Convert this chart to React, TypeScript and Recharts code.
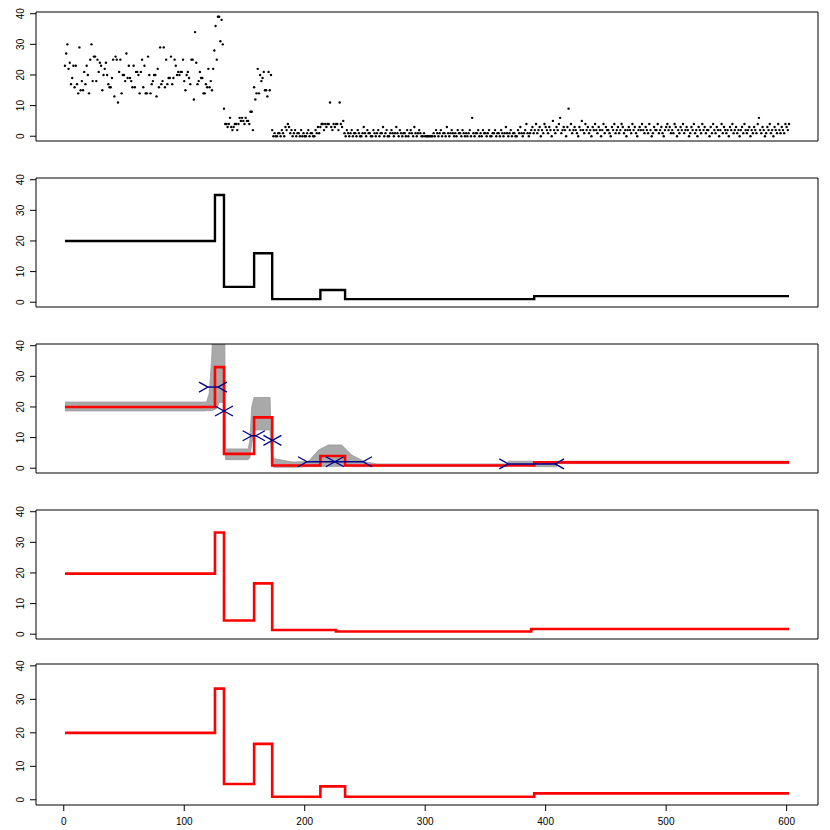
import {
  Area,
  ComposedChart,
  Line,
  ReferenceArea,
  ReferenceLine,
  Scatter,
  XAxis,
  YAxis,
} from "recharts";

// raw counts, one per position (1..602)
const counts = [
  23, 27, 30, 22, 24, 17, 19, 23, 16, 23, 17, 14, 29, 15, 18, 15, 21, 17, 23, 20,
  14, 25, 30, 18, 26, 26, 18, 25, 21, 24, 23, 15, 20, 22, 24, 20, 17, 16, 16, 19,
  25, 13, 26, 25, 11, 21, 25, 14, 20, 20, 18, 27, 19, 23, 19, 18, 16, 23, 16, 21,
  21, 20, 14, 21, 25, 16, 23, 14, 14, 26, 20, 14, 17, 18, 20, 20, 13, 22, 16, 29,
  17, 18, 29, 16, 25, 17, 19, 19, 26, 17, 19, 25, 23, 20, 21, 20, 21, 21, 25, 18,
  15, 20, 21, 19, 17, 25, 25, 12, 34, 24, 17, 18, 21, 19, 19, 14, 14, 17, 16, 22,
  16, 18, 15, 22, 28, 36, 25, 39, 39, 31, 38, 30, 9, 4, 4, 3, 4, 6, 3, 2,
  3, 4, 4, 2, 4, 6, 5, 6, 5, 4, 6, 5, 5, 4, 8, 8, 2, 16, 12, 14,
  22, 14, 20, 18, 19, 21, 15, 15, 13, 21, 15, 20, 2, 0, 1, 0, 0, 1, 1, 0,
  2, 1, 0, 3, 2, 4, 3, 1, 2, 0, 1, 2, 0, 1, 1, 0, 2, 0, 1, 0,
  0, 1, 2, 0, 1, 1, 0, 0, 2, 1, 3, 1, 3, 4, 4, 2, 4, 3, 4, 4,
  11, 3, 2, 4, 3, 4, 4, 2, 11, 4, 3, 5, 1, 0, 2, 1, 0, 1, 2, 0,
  1, 1, 0, 2, 1, 0, 0, 1, 3, 1, 0, 2, 1, 1, 0, 0, 2, 1, 0, 1,
  2, 0, 1, 1, 3, 0, 1, 2, 0, 0, 1, 2, 1, 0, 1, 3, 1, 0, 2, 1,
  0, 1, 1, 0, 2, 0, 1, 2, 1, 0, 3, 1, 0, 1, 2, 1, 0, 0, 1, 0,
  0, 0, 0, 0, 0, 0, 1, 0, 2, 1, 0, 1, 2, 0, 1, 1, 0, 3, 1, 0,
  1, 2, 1, 0, 1, 0, 2, 1, 1, 0, 2, 1, 0, 1, 0, 1, 2, 0, 6, 1,
  0, 1, 1, 2, 0, 1, 0, 2, 1, 1, 0, 1, 2, 0, 0, 1, 1, 2, 0, 1,
  1, 0, 2, 1, 0, 1, 3, 1, 0, 1, 2, 0, 1, 1, 0, 0, 2, 1, 3, 1,
  0, 1, 2, 4, 1, 0, 1, 2, 3, 1, 2, 4, 1, 2, 3, 0, 2, 1, 4, 3,
  2, 1, 3, 2, 0, 5, 2, 1, 3, 2, 4, 6, 1, 2, 3, 2, 0, 3, 9, 2,
  4, 1, 2, 3, 2, 1, 0, 3, 2, 5, 2, 1, 4, 2, 3, 1, 2, 0, 3, 2,
  4, 2, 1, 3, 2, 0, 2, 4, 1, 3, 2, 2, 1, 0, 3, 2, 4, 1, 2, 3,
  1, 2, 4, 3, 1, 2, 0, 2, 3, 2, 1, 4, 2, 3, 1, 0, 2, 3, 2, 4,
  2, 1, 3, 2, 1, 4, 2, 0, 1, 3, 2, 2, 4, 1, 2, 3, 1, 0, 2, 3,
  4, 2, 3, 1, 2, 1, 4, 3, 0, 2, 1, 3, 2, 4, 1, 2, 3, 2, 0, 1,
  3, 2, 4, 1, 2, 0, 3, 2, 1, 4, 2, 3, 1, 2, 2, 0, 3, 1, 4, 2,
  1, 3, 2, 0, 2, 4, 1, 3, 2, 1, 2, 0, 3, 2, 4, 1, 2, 3, 1, 2,
  0, 2, 3, 1, 4, 2, 1, 2, 3, 0, 2, 1, 3, 2, 1, 4, 6, 2, 1, 3,
  2, 0, 1, 3, 2, 4, 1, 2, 0, 3, 2, 1, 4, 2, 1, 3, 2, 1, 4, 3, 2, 4,
];

// segment boundaries and levels of the step fits
const breaks = [1, 125.5, 133, 158, 173, 213, 233.5, 390.5, 602];
const breaks4 = [1, 125.5, 133, 158, 173, 226, 388, 602];
const truthLevels = [20, 35, 5, 16, 1, 4, 1, 2];
const fit3Levels = [20, 33, 4.7, 16.6, 0.9, 4, 0.9, 1.9];
const fit4Levels = [19.8, 33.2, 4.5, 16.6, 1.4, 0.9, 1.7];
const fit5Levels = [20, 33.2, 4.7, 16.7, 0.9, 4, 0.9, 1.9];

// grey band in panel 3
const bandX = [1, 117, 118.6, 120.7, 122.7, 124.1, 127, 129, 131.9, 133.6, 134.2, 153.1, 154.5, 156, 157.9, 171.2, 172.6, 173.9, 190, 203, 211.3, 219.6, 230.7, 239, 250, 260, 368, 369, 389.8, 390.4, 409.2, 409.8, 602];
const bandLo = [18.7, 18.7, 18.8, 18.8, 18.8, 19, 19.5, 21.5, 21.5, 21, 2.8, 2.8, 3.5, 8, 12.5, 12.5, 1, 0.3, 0.3, 0.5, 0.5, 0.6, 0.6, 0.5, 0.5, 0.6, 0.6, 1.0, 1.0, 0.5, 0.5, 1.5, 1.5];
const bandHi = [21.6, 21.6, 21.7, 24.4, 35.3, 48, 48, 48, 48, 48, 6.3, 6.3, 9.2, 20, 23.1, 23.1, 5.9, 3.2, 2, 2.2, 5.9, 7.6, 7.6, 4.3, 2.1, 1.4, 1.4, 2.3, 2.3, 1.9, 1.9, 2.3, 2.3];

// change-point intervals (blue)
const ciLeft = [119.7, 133, 156, 173.2, 201.9, 225, 369];
const ciRight = [128, 133, 159.5, 173.2, 248.4, 225, 407.8];
const ciLevel = [26.5, 18.7, 10.6, 9.1, 2.1, 2.1, 1.4];

const yTicks = [0, 10, 20, 30, 40];
const xTicks = [0, 100, 200, 300, 400, 500, 600];

const X_DOMAIN: [number, number] = [-23.04, 626.04];
const Y_DOMAIN: [number, number] = [-1.56, 40.56];
const FONT = "'Liberation Sans', Arial, sans-serif";

const points = counts.map((y, i) => ({ x: i + 1, y }));
const toSteps = (b: number[], lv: number[]) =>
  b.map((x, i) => ({ x, y: lv[Math.min(i, lv.length - 1)] }));
const band = bandX.map((x, i) => ({ x, range: [bandLo[i], bandHi[i]] }));
const ciEnds = ciLeft.flatMap((x0, i) => [
  { x: x0, y: ciLevel[i], side: -1 },
  { x: ciRight[i], y: ciLevel[i], side: 1 },
]);

const YTick = (p: any) => (
  <text
    x={24}
    y={p.y}
    transform={`rotate(-90 24 ${p.y})`}
    textAnchor="middle"
    fontSize={10}
    fontFamily={FONT}
    fill="#000"
  >
    {p.payload.value}
  </text>
);

const XTick = (p: any) => (
  <text x={p.x} y={p.y + 11.6} textAnchor="middle" fontSize={10} fontFamily={FONT} fill="#000">
    {p.payload.value}
  </text>
);

function Panel({
  top,
  height = 166,
  last = false,
  children,
}: {
  top: number;
  height?: number;
  last?: boolean;
  children: any;
}) {
  return (
    <div style={{ position: "absolute", left: 0, top }}>
      <ComposedChart
        width={830}
        height={height}
        margin={{ top: 12, right: 12, bottom: last ? 0 : 25, left: 0 }}
      >
        <XAxis
          type="number"
          dataKey="x"
          domain={X_DOMAIN}
          allowDataOverflow
          ticks={xTicks}
          interval={0}
          hide={!last}
          height={25}
          tickSize={6}
          tickMargin={2}
          axisLine={false}
          tickLine={{ stroke: "#000" }}
          tick={XTick}
        />
        <YAxis
          type="number"
          domain={Y_DOMAIN}
          allowDataOverflow
          ticks={yTicks}
          interval={0}
          width={36}
          tickSize={6}
          axisLine={false}
          tickLine={{ stroke: "#000" }}
          tick={YTick}
        />
        {children}
        <ReferenceArea
          x1={X_DOMAIN[0]}
          x2={X_DOMAIN[1]}
          y1={Y_DOMAIN[0]}
          y2={Y_DOMAIN[1]}
          fill="none"
          fillOpacity={0}
          stroke="#000"
          strokeWidth={1}
          ifOverflow="visible"
        />
      </ComposedChart>
    </div>
  );
}

export default function App() {
  return (
    <div
      style={{
        position: "absolute",
        left: 0,
        top: 0,
        width: 830,
        height: 830,
        background: "#fff",
      }}
    >
      <Panel top={0}>
        <Scatter
          data={points}
          dataKey="y"
          isAnimationActive={false}
          shape={(p: any) => <circle cx={p.cx} cy={p.cy} r={1.2} fill="#000" />}
        />
      </Panel>

      <Panel top={166}>
        <Line
          data={toSteps(breaks, truthLevels)}
          dataKey="y"
          type="stepAfter"
          stroke="#000"
          strokeWidth={2.4}
          dot={false}
          isAnimationActive={false}
        />
      </Panel>

      <Panel top={332}>
        <Area
          data={band}
          dataKey="range"
          type="linear"
          fill="#a9a9a9"
          fillOpacity={1}
          stroke="#9a9a9a"
          strokeWidth={0.8}
          isAnimationActive={false}
        />
        <Line
          data={toSteps(breaks, fit3Levels)}
          dataKey="y"
          type="stepAfter"
          stroke="#ff0000"
          strokeWidth={2.6}
          dot={false}
          isAnimationActive={false}
        />
        {ciLeft.map((x0, i) => (
          <ReferenceLine
            key={i}
            segment={[
              { x: x0, y: ciLevel[i] },
              { x: ciRight[i], y: ciLevel[i] },
            ]}
            stroke="#00008b"
            strokeWidth={1.4}
          />
        ))}
        <Scatter
          data={ciEnds}
          dataKey="y"
          isAnimationActive={false}
          shape={(p: any) => {
            const s = p.payload.side;
            return (
              <path
                d={`M${p.cx + s * 9},${p.cy - 5}L${p.cx},${p.cy}L${p.cx + s * 9},${p.cy + 5}`}
                stroke="#00008b"
                strokeWidth={1.3}
                fill="none"
              />
            );
          }}
        />
      </Panel>

      <Panel top={498}>
        <Line
          data={toSteps(breaks4, fit4Levels)}
          dataKey="y"
          type="stepAfter"
          stroke="#ff0000"
          strokeWidth={2.6}
          dot={false}
          isAnimationActive={false}
        />
      </Panel>

      <Panel top={652} height={178} last>
        <Line
          data={toSteps(breaks, fit5Levels)}
          dataKey="y"
          type="stepAfter"
          stroke="#ff0000"
          strokeWidth={2.6}
          dot={false}
          isAnimationActive={false}
        />
      </Panel>
    </div>
  );
}
